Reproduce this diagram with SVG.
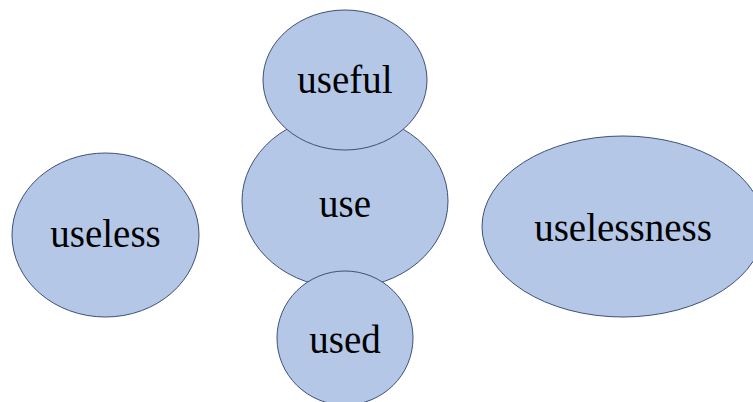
<svg xmlns="http://www.w3.org/2000/svg" width="753" height="402" viewBox="0 0 753 402">
  <style>
    .node { fill: #b4c7e7; stroke: #3e5078; stroke-width: 1; }
    .label { font-size: 39px; fill: #000; text-anchor: middle; }
  </style>
  <rect width="753" height="402" fill="#ffffff"/>
  <g id="connectors"></g>
  <g font-family="'Liberation Serif', 'DejaVu Serif', serif">
    <g id="useless">
      <ellipse class="node" cx="105.5" cy="235" rx="93.5" ry="82"/>
      <text class="label" x="105.5" y="247">useless</text>
    </g>
    <g id="use">
      <ellipse class="node" cx="345" cy="201" rx="103" ry="87"/>
      <text class="label" x="345" y="217">use</text>
    </g>
    <g id="useful">
      <ellipse class="node" cx="345" cy="80" rx="82" ry="70"/>
      <text class="label" x="345" y="93">useful</text>
    </g>
    <g id="used">
      <ellipse class="node" cx="345" cy="338" rx="68" ry="67"/>
      <text class="label" x="345" y="353">used</text>
    </g>
    <g id="uselessness">
      <ellipse class="node" cx="623" cy="226.5" rx="141" ry="90.5"/>
      <text class="label" x="623" y="241">uselessness</text>
    </g>
  </g>
</svg>
